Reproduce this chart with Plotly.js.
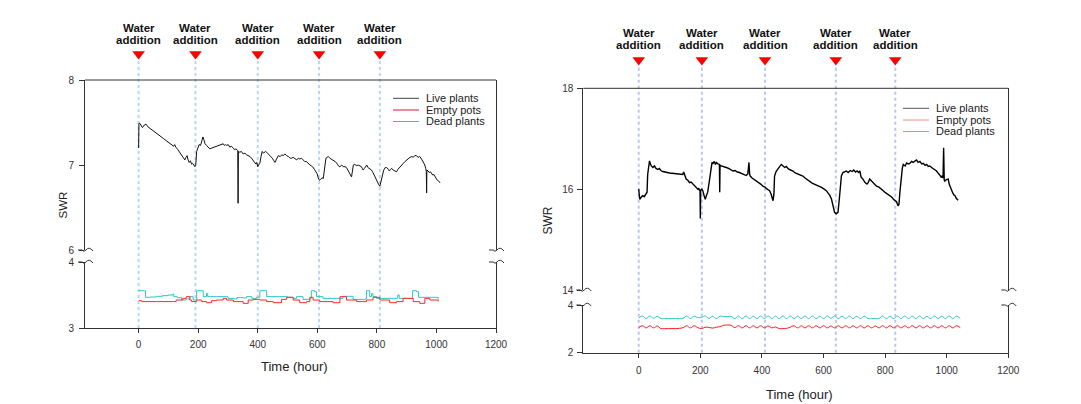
<!DOCTYPE html>
<html>
<head>
<meta charset="utf-8">
<script src="https://cdn.plot.ly/plotly-3.0.1.min.js"></script>
<style>html,body{margin:0;padding:0;background:#fff}#chart{width:1081px;height:404px}</style>
</head>
<body>
<div id="chart"></div>
<script>
// ---------- DATA ----------
const seriesNames = ["Live plants", "Empty pots", "Dead plants"];
const waterLeft = [0, 191, 400, 606, 810];
const waterRight = [0, 205, 410, 640, 833];
const xTicks = [0, 200, 400, 600, 800, 1000, 1200];

// Left panel
const leftLiveTime = [0,1,4,9,13,19,25,31,38,50,62,72,84,95,105,112,118,121,125,132,139,146,152,155,159,163,166,170,174,178,181,185,189,192,195,199,203,208,212,216,219,223,228,233,239,246,254,262,270,277,284,288,292,296,301,306,311,318,322,327,331,333,334,335,340,345,351,357,362,368,374,379,384,390,394,397,400,403,407,411,415,419,423,427,430,436,443,449,454,458,463,469,475,481,486,491,497,503,509,514,519,525,531,536,541,547,552,558,564,569,575,580,584,590,595,599,603,607,611,616,620,624,629,633,637,642,647,654,660,666,671,676,682,687,693,698,703,707,710,713,715,718,721,726,731,737,742,748,751,754,758,762,766,770,775,782,787,792,796,799,803,806,810,813,816,819,823,828,833,838,842,846,850,855,860,866,871,877,883,889,894,900,906,911,917,922,927,933,938,944,950,955,958,961,964,966,967,968,972,976,980,984,988,991,995,999,1003,1008,1012];
const leftLive = [7.20,7.49,7.49,7.46,7.44,7.47,7.48,7.45,7.43,7.40,7.37,7.34,7.31,7.28,7.25,7.23,7.22,7.24,7.21,7.18,7.14,7.11,7.08,7.06,7.09,7.11,7.06,7.03,7.05,7.01,7.02,7.00,6.98,7.01,7.16,7.20,7.24,7.23,7.27,7.33,7.30,7.25,7.23,7.21,7.19,7.20,7.21,7.22,7.23,7.24,7.25,7.23,7.24,7.23,7.24,7.21,7.22,7.20,7.18,7.19,7.17,7.17,6.55,7.16,7.15,7.16,7.13,7.14,7.12,7.11,7.10,7.08,7.06,7.03,7.01,7.03,6.98,7.00,7.02,7.10,7.16,7.14,7.15,7.16,7.15,7.13,7.10,7.08,7.05,7.03,7.07,7.11,7.10,7.12,7.11,7.13,7.11,7.10,7.08,7.08,7.09,7.07,7.06,7.08,7.07,7.08,7.06,7.04,7.04,7.02,7.00,6.99,6.98,6.95,6.92,6.90,6.85,6.82,6.83,6.85,6.84,6.95,7.08,7.09,7.10,7.08,7.07,7.05,7.04,7.02,6.99,6.98,7.00,6.98,6.98,6.97,6.94,6.92,6.90,6.87,6.86,6.93,7.00,7.01,6.99,7.00,6.99,6.98,6.96,6.94,6.96,6.99,7.00,6.97,6.96,6.94,6.91,6.87,6.84,6.82,6.80,6.77,6.75,6.80,6.86,6.90,6.94,6.97,6.97,6.95,6.93,6.95,6.96,6.94,6.93,6.92,6.95,6.97,7.00,7.02,7.04,7.06,7.07,7.09,7.10,7.09,7.11,7.11,7.09,7.10,7.07,7.04,7.02,7.00,6.96,6.92,6.67,6.94,6.93,6.91,6.92,6.90,6.88,6.89,6.86,6.84,6.82,6.81,6.79];

const leftDeadTime = [0,20,23,40,60,80,100,115,118,130,144,160,172,183,193,195,215,217,226,228,232,262,295,300,320,330,351,362,380,396,405,407,424,430,474,500,519,530,552,575,580,591,597,619,664,686,720,754,763,765,775,776,782,787,799,866,870,875,911,920,933,940,978,1006];
const leftDead = [3.565,3.565,3.465,3.47,3.48,3.49,3.50,3.515,3.475,3.46,3.424,3.44,3.475,3.424,3.424,3.565,3.565,3.475,3.475,3.525,3.475,3.475,3.475,3.449,3.44,3.46,3.455,3.475,3.449,3.465,3.465,3.565,3.565,3.475,3.475,3.465,3.449,3.475,3.434,3.45,3.565,3.55,3.475,3.449,3.449,3.48,3.434,3.434,3.45,3.565,3.565,3.475,3.52,3.475,3.449,3.449,3.50,3.449,3.449,3.565,3.55,3.465,3.465,3.434];

const leftEmptyTime = [0,10,60,115,126,148,160,172,178,195,212,228,245,262,284,295,318,351,368,385,407,430,452,480,497,519,541,564,575,586,608,653,676,698,732,765,787,810,843,866,888,922,944,961,978,1006];
const leftEmpty = [3.414,3.40,3.40,3.40,3.424,3.449,3.475,3.424,3.40,3.424,3.40,3.384,3.414,3.424,3.449,3.424,3.40,3.374,3.424,3.434,3.424,3.40,3.384,3.434,3.465,3.424,3.384,3.40,3.465,3.424,3.40,3.384,3.475,3.424,3.40,3.424,3.465,3.424,3.384,3.40,3.449,3.40,3.374,3.449,3.424,3.40];

// Right panel
const rightLiveTime = [0,3,8,13,18,24,27,29,32,35,38,41,46,51,56,62,67,72,78,89,100,115,130,143,146,150,154,160,165,170,176,182,187,192,195,197,199,200,201,205,208,212,216,220,224,229,235,238,241,245,249,252,257,262,263,264,268,275,284,292,299,306,313,320,327,334,342,349,354,358,360,362,368,375,382,388,396,403,410,417,425,430,433,436,439,441,446,452,458,463,468,474,479,486,493,501,508,516,524,533,540,548,555,563,570,578,588,595,602,609,615,621,626,631,636,641,647,652,658,663,668,674,680,687,693,698,704,709,714,718,722,728,735,741,745,750,756,763,772,780,787,794,801,808,815,822,827,832,837,842,845,848,852,856,859,865,870,875,880,886,891,897,902,907,913,919,924,930,935,940,945,951,956,962,967,972,977,980,983,986,988,990,992,994,999,1005,1008,1012,1016,1020,1024,1027,1031,1034,1037];
const rightLive = [16.00,15.80,15.84,15.87,15.85,15.90,15.94,16.29,16.45,16.56,16.50,16.46,16.43,16.46,16.41,16.39,16.41,16.37,16.35,16.33,16.32,16.31,16.30,16.29,16.34,16.25,16.20,16.17,16.13,16.14,16.10,16.05,16.03,16.00,16.02,15.97,16.00,15.42,15.97,16.00,15.97,15.88,15.80,15.88,15.94,16.15,16.46,16.53,16.51,16.55,16.49,16.53,16.50,16.49,15.94,16.48,16.46,16.44,16.43,16.41,16.38,16.36,16.37,16.34,16.33,16.31,16.29,16.27,16.30,16.53,16.30,16.26,16.22,16.19,16.16,16.15,16.10,16.06,16.04,16.00,15.97,15.90,15.85,15.77,15.90,16.26,16.35,16.39,16.45,16.49,16.46,16.43,16.45,16.40,16.38,16.36,16.32,16.30,16.28,16.26,16.22,16.18,16.16,16.12,16.10,16.08,16.06,16.03,16.00,15.97,15.92,15.87,15.80,15.67,15.54,15.51,15.54,15.85,16.26,16.33,16.35,16.36,16.33,16.37,16.35,16.38,16.34,16.36,16.33,16.36,16.24,16.20,16.13,16.10,16.13,16.20,16.16,16.12,16.06,16.04,16.01,15.97,15.93,15.90,15.87,15.84,15.80,15.77,15.75,15.67,15.70,15.94,16.20,16.42,16.49,16.46,16.52,16.50,16.51,16.55,16.53,16.56,16.58,16.53,16.55,16.50,16.51,16.47,16.49,16.45,16.46,16.43,16.41,16.39,16.36,16.32,16.29,16.26,16.23,16.27,16.22,16.82,16.18,16.16,16.19,16.20,16.10,16.03,15.97,15.92,15.88,15.87,15.82,15.80,15.78];

const rightLowTime = [0,12,24,36,48,60,72,84,96,108,120,132,144,156,168,180,192,204,216,228,240,252,264,276,288,300,312,324,336,348,360,372,384,396,408,420,432,444,456,468,480,492,504,516,528,540,552,564,576,588,600,612,624,636,648,660,672,684,696,708,720,732,744,756,768,780,792,804,816,828,840,852,864,876,888,900,912,924,936,948,960,972,984,996,1008,1020,1032,1044];
const rightDead = [3.45,3.54,3.43,3.54,3.44,3.53,3.43,3.43,3.43,3.43,3.43,3.43,3.44,3.54,3.43,3.53,3.47,3.48,3.54,3.44,3.53,3.43,3.53,3.52,3.52,3.52,3.43,3.54,3.43,3.54,3.43,3.53,3.43,3.54,3.44,3.54,3.43,3.53,3.43,3.54,3.43,3.54,3.43,3.53,3.43,3.54,3.43,3.54,3.43,3.53,3.43,3.54,3.44,3.54,3.43,3.53,3.43,3.54,3.43,3.53,3.43,3.53,3.43,3.43,3.43,3.43,3.54,3.43,3.53,3.43,3.54,3.43,3.54,3.43,3.53,3.43,3.54,3.43,3.53,3.43,3.54,3.43,3.53,3.43,3.54,3.43,3.53,3.44];
const rightEmpty = [3.05,3.13,3.04,3.13,3.04,3.12,3.01,3.01,3.01,3.01,3.01,3.02,3.05,3.13,3.04,3.13,3.05,3.01,3.07,3.06,3.03,3.07,3.09,3.15,3.16,3.15,3.05,3.13,3.04,3.13,3.04,3.13,3.04,3.13,3.04,3.12,3.04,3.08,3.01,3.01,3.02,3.07,3.13,3.04,3.13,3.04,3.13,3.04,3.13,3.04,3.13,3.04,3.12,3.04,3.13,3.04,3.13,3.04,3.13,3.04,3.13,3.04,3.13,3.04,3.12,3.04,3.13,3.04,3.13,3.04,3.13,3.04,3.13,3.04,3.13,3.04,3.13,3.04,3.13,3.04,3.13,3.04,3.13,3.04,3.13,3.04,3.13,3.05];

// ---------- HELPERS ----------
const W = 1081, H = 404;
const px = v => v / W;
const py = v => 1 - v / H;
const FONT = 'Arial, "Liberation Sans", sans-serif';
const AX = '#333333';

function tilde(ax, y) {
  const p = (x, yy) => px(x).toFixed(5) + ',' + py(yy).toFixed(5);
  return 'M' + p(ax - 7, y) + ' L' + p(ax - 3, y) + ' Q' + p(ax - 1, y + 2.5) + ' ' + p(ax + 1, y) +
         ' Q' + p(ax + 4, y - 4) + ' ' + p(ax + 8, y + 1);
}

// ---------- TRACES ----------
const traces = [
  {x: leftLiveTime, y: leftLive, xaxis: 'x', yaxis: 'y', mode: 'lines', line: {color: '#111111', width: 1}, name: seriesNames[0], showlegend: false},
  {x: leftDeadTime, y: leftDead, xaxis: 'x', yaxis: 'y2', mode: 'lines', line: {color: '#2ec6c2', width: 1, shape: 'hv'}, name: seriesNames[2], showlegend: false},
  {x: leftEmptyTime, y: leftEmpty, xaxis: 'x', yaxis: 'y2', mode: 'lines', line: {color: '#ff2a2a', width: 1, shape: 'hv'}, name: seriesNames[1], showlegend: false},
  {x: rightLiveTime, y: rightLive, xaxis: 'x2', yaxis: 'y3', mode: 'lines', line: {color: '#000000', width: 1.4}, name: seriesNames[0], showlegend: false},
  {x: rightLowTime, y: rightDead, xaxis: 'x2', yaxis: 'y4', mode: 'lines', line: {color: '#2ec4c4', width: 1, shape: 'spline'}, name: seriesNames[2], showlegend: false},
  {x: rightLowTime, y: rightEmpty, xaxis: 'x2', yaxis: 'y4', mode: 'lines', line: {color: '#ff1a1a', width: 1, shape: 'spline'}, name: seriesNames[1], showlegend: false},
  {x: waterLeft, y: waterLeft.map(() => py(54)), xaxis: 'x', yaxis: 'y5', mode: 'markers', cliponaxis: false,
   marker: {symbol: 'triangle-down', size: 11, color: '#ff0000'}, showlegend: false, hoverinfo: 'skip'},
  {x: waterRight, y: waterRight.map(() => py(60)), xaxis: 'x2', yaxis: 'y6', mode: 'markers', cliponaxis: false,
   marker: {symbol: 'triangle-down', size: 11, color: '#ff0000'}, showlegend: false, hoverinfo: 'skip'}
];

// ---------- AXES ----------
const baseX = {range: [-180, 1200], tickvals: xTicks, ticks: 'outside', ticklen: 4, tickcolor: AX,
  showline: true, linecolor: AX, linewidth: 1, showgrid: false, zeroline: false,
  tickfont: {family: FONT, size: 10, color: '#333'}, fixedrange: true};
const baseY = {ticks: 'outside', ticklen: 5, tickcolor: AX, showline: true, mirror: true, linecolor: AX,
  linewidth: 1, showgrid: false, zeroline: false, tickfont: {family: FONT, size: 10, color: '#333'}, fixedrange: true};

const layout = {
  width: W, height: H,
  margin: {l: 0, r: 0, t: 0, b: 0, pad: 0},
  paper_bgcolor: '#ffffff', plot_bgcolor: 'rgba(0,0,0,0)',
  showlegend: false,
  xaxis: Object.assign({}, baseX, {domain: [px(85), px(496)], anchor: 'y2', ticklabelstandoff: 3}),
  yaxis: Object.assign({}, baseY, {domain: [py(250), py(80)], range: [6, 8], tickvals: [6, 7, 8], anchor: 'x', ticklabelstandoff: 3}),
  yaxis2: Object.assign({}, baseY, {domain: [py(328), py(262)], range: [3, 4], tickvals: [3, 4], anchor: 'x', ticklabelstandoff: 3}),
  xaxis2: Object.assign({}, baseX, {domain: [px(583.3), px(1008.3)], anchor: 'y4', ticklabelstandoff: 4}),
  yaxis3: Object.assign({}, baseY, {domain: [py(290), py(88.3)], range: [14, 18], tickvals: [14, 16, 18], anchor: 'x2', ticklabelstandoff: 2}),
  yaxis4: Object.assign({}, baseY, {domain: [py(352.7), py(305)], range: [2, 4], tickvals: [2, 4], anchor: 'x2', ticklabelstandoff: 2}),
  yaxis5: {domain: [0, 1], range: [0, 1], anchor: 'x', visible: false, fixedrange: true},
  yaxis6: {domain: [0, 1], range: [0, 1], anchor: 'x2', visible: false, fixedrange: true},
  shapes: [],
  annotations: []
};

layout.shapes.push({type: 'line', xref: 'paper', yref: 'paper', x0: px(85), x1: px(496), y0: py(80), y1: py(80), line: {color: AX, width: 1}});
layout.shapes.push({type: 'line', xref: 'paper', yref: 'paper', x0: px(583.3), x1: px(1008.3), y0: py(88.3), y1: py(88.3), line: {color: AX, width: 1}});

[[85, 250], [85, 262], [496, 250], [496, 262], [583.3, 290], [583.3, 305], [1008.3, 290], [1008.3, 305]].forEach(b => {
  layout.shapes.push({type: 'path', xref: 'paper', yref: 'paper', path: tilde(b[0], b[1]), line: {color: AX, width: 1}});
});

waterLeft.forEach(t => layout.shapes.push({type: 'line', xref: 'x', yref: 'paper', x0: t, x1: t, y0: py(328), y1: py(60),
  layer: 'below', line: {color: '#b3d9f5', width: 2, dash: 'dot'}}));
waterRight.forEach(t => layout.shapes.push({type: 'line', xref: 'x2', yref: 'paper', x0: t, x1: t, y0: py(352.7), y1: py(66),
  layer: 'below', line: {color: '#b9c6f2', width: 2, dash: 'dot'}}));

const boldFont = {family: FONT, size: 11.5, color: '#111'};
waterLeft.forEach(t => {
  layout.annotations.push({xref: 'x', yref: 'paper', x: t, y: py(28), text: '<b>Water</b>', showarrow: false, font: boldFont, xanchor: 'center', yanchor: 'middle'});
  layout.annotations.push({xref: 'x', yref: 'paper', x: t, y: py(40), text: '<b>addition</b>', showarrow: false, font: boldFont, xanchor: 'center', yanchor: 'middle'});
});
waterRight.forEach(t => {
  layout.annotations.push({xref: 'x2', yref: 'paper', x: t, y: py(33), text: '<b>Water</b>', showarrow: false, font: boldFont, xanchor: 'center', yanchor: 'middle'});
  layout.annotations.push({xref: 'x2', yref: 'paper', x: t, y: py(45), text: '<b>addition</b>', showarrow: false, font: boldFont, xanchor: 'center', yanchor: 'middle'});
});

layout.annotations.push({xref: 'paper', yref: 'paper', x: px(62.5), y: py(205), text: 'SWR', textangle: -90, showarrow: false, font: {family: FONT, size: 11.5, color: '#222'}, xanchor: 'center', yanchor: 'middle'});
layout.annotations.push({xref: 'paper', yref: 'paper', x: px(547), y: py(220.5), text: 'SWR', textangle: -90, showarrow: false, font: {family: FONT, size: 12, color: '#222'}, xanchor: 'center', yanchor: 'middle'});
layout.annotations.push({xref: 'paper', yref: 'paper', x: px(294), y: py(366.5), text: 'Time (hour)', showarrow: false, font: {family: FONT, size: 13, color: '#222'}, xanchor: 'center', yanchor: 'middle'});
layout.annotations.push({xref: 'paper', yref: 'paper', x: px(799), y: py(394), text: 'Time (hour)', showarrow: false, font: {family: FONT, size: 13, color: '#222'}, xanchor: 'center', yanchor: 'middle'});

function legend(x0, x1, tx, ys, colors) {
  seriesNames.forEach((n, i) => {
    layout.shapes.push({type: 'line', xref: 'paper', yref: 'paper', x0: px(x0), x1: px(x1), y0: py(ys[i]), y1: py(ys[i]), line: {color: colors[i], width: 1}});
    layout.annotations.push({xref: 'paper', yref: 'paper', x: px(tx), y: py(ys[i]), text: n, showarrow: false, xanchor: 'left', yanchor: 'middle',
      font: {family: FONT, size: 11, color: '#222'}});
  });
}
legend(393, 419, 424, [98.3, 110, 121.5], ['#444444', '#d8163c', '#3cbfb5']);
legend(903, 929, 934, [108.3, 120, 131.5], ['#555555', '#f08a8a', '#6ab6d8']);

Plotly.newPlot('chart', traces, layout, {staticPlot: true, displayModeBar: false});
</script>
</body>
</html>
